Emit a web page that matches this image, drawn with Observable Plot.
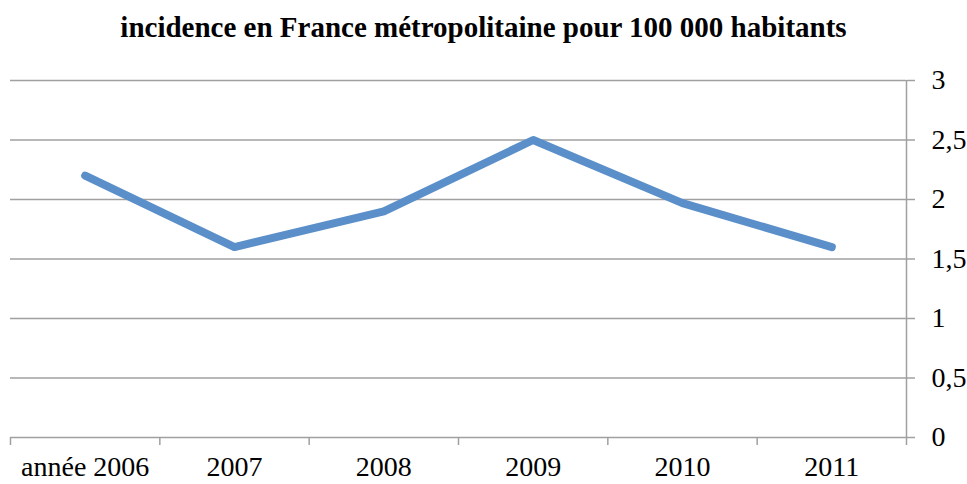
<!DOCTYPE html>
<html>
<head>
<meta charset="utf-8">
<script src="https://cdn.jsdelivr.net/npm/d3@7"></script>
<script src="https://cdn.jsdelivr.net/npm/@observablehq/plot@0.6"></script>
<style>
  html, body { margin: 0; padding: 0; background: #fff; }
  #title { height: 60px; line-height: 54px; text-align: center; font-family: "Liberation Serif", serif; font-weight: bold; font-size: 29px; color: #000; white-space: nowrap; }
</style>
</head>
<body>
<div id="title">incidence en France métropolitaine pour 100 000 habitants</div>
<div id="chart"></div>
<script>
const categories = ["année 2006", "2007", "2008", "2009", "2010", "2011"];
const values = [2.2, 1.6, 1.9, 2.5, 1.97, 1.6];
const yTicks = [0, 0.5, 1, 1.5, 2, 2.5, 3];

const data = categories.map((c, i) => ({i, c, v: values[i]}));
const idx = categories.map((c, i) => i);
const edges = [-0.5, ...idx.map(i => i + 0.5)];
const font = "Liberation Serif, serif";

const chart = Plot.plot({
  width: 967,
  height: 424,
  marginTop: 20,
  marginBottom: 47,
  marginLeft: 10,
  marginRight: 61,
  style: {fontFamily: font, fontSize: "28px", color: "#000", background: "#fff"},
  x: {type: "linear", domain: [-0.5, categories.length - 0.5]},
  y: {domain: [0, 3]},
  marks: [
    Plot.gridY(yTicks, {stroke: "#a0a0a0", strokeOpacity: 1, strokeWidth: 1.5}),
    Plot.ruleX([categories.length - 0.5], {y1: 0, y2: 3, stroke: "#a0a0a0", strokeWidth: 1.5}),
    Plot.axisY({anchor: "right", ticks: yTicks, tickSize: 8, tickPadding: 17, stroke: "#a0a0a0", strokeWidth: 1.5, fill: "#000",
      tickFormat: d => String(d).replace(".", ","), fontSize: 28, textAnchor: "start", label: null}),
    Plot.axisX({ticks: edges, tickSize: 8, tickFormat: () => "", stroke: "#a0a0a0", strokeWidth: 1.5, label: null}),
    Plot.axisX({ticks: idx, tickSize: 0, tickPadding: 19, tickFormat: i => categories[i], fontSize: 28, fill: "#000", label: null}),
    Plot.line(data, {x: "i", y: "v", stroke: "#5b8fc9", strokeWidth: 8, strokeLinecap: "round", strokeLinejoin: "round"})
  ]
});
document.getElementById("chart").appendChild(chart);
</script>
</body>
</html>
